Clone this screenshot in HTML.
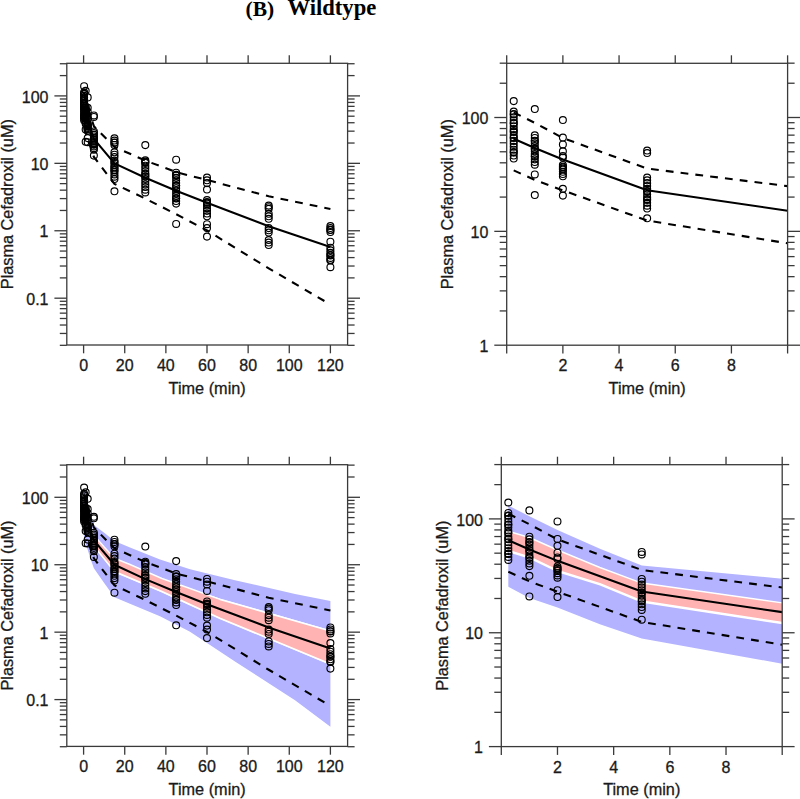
<!DOCTYPE html>
<html><head><meta charset="utf-8"><style>
html,body{margin:0;padding:0;background:#fff;width:800px;height:799px;overflow:hidden}
svg{display:block}
.tk{font-family:"Liberation Sans",sans-serif;font-size:16px;fill:#1a1a1a;stroke:#1a1a1a;stroke-width:0.3px}
.lb{font-family:"Liberation Sans",sans-serif;font-size:16.3px;fill:#1a1a1a;stroke:#1a1a1a;stroke-width:0.3px}
.title{font-family:"Liberation Serif",serif;font-size:21.5px;font-weight:bold;fill:#000;white-space:pre}
</style></head><body>
<svg width="800" height="799" viewBox="0 0 800 799">
<defs><clipPath id="cp1"><rect x="66.8" y="63.3" width="280.8" height="281.7"/></clipPath><clipPath id="cp2"><rect x="506.7" y="63.3" width="280.90000000000003" height="281.9"/></clipPath><clipPath id="cp3"><rect x="66.8" y="464.7" width="280.8" height="281.7"/></clipPath><clipPath id="cp4"><rect x="501.3" y="464.7" width="280.90000000000003" height="281.8999999999999"/></clipPath></defs>
<rect width="800" height="799" fill="#fff"/>
<text x="245.5" y="15.5" class="title">(B)</text>
<text x="287.5" y="15.4" class="title" style="font-size:22.6px">Wildtype</text>
<g clip-path="url(#cp1)">
<path d="M84.11,108.52 L85.66,114.00 L87.71,120.75 L93.88,138.94 L114.45,163.33 L145.30,177.71 L176.15,190.68 L207.00,202.78 L268.70,226.16 L330.40,247.02" fill="none" stroke="#000" stroke-width="2.1" stroke-linejoin="round"/>
<path d="M84.11,92.84 L85.66,99.08 L87.71,108.07 L93.88,126.15 L114.45,146.94 L145.30,160.54 L176.15,172.15 L207.00,180.00 L268.70,196.33 L330.40,209.03" fill="none" stroke="#000" stroke-width="2.1" stroke-dasharray="7.8 7.1"/>
<path d="M84.11,127.24 L85.66,132.87 L87.71,139.07 L93.88,156.91 L114.45,183.92 L145.30,198.59 L176.15,214.21 L207.00,230.47 L268.70,268.35 L330.40,304.54" fill="none" stroke="#000" stroke-width="2.1" stroke-dasharray="7.8 7.1"/>
<g fill="none" stroke="#000" stroke-width="1.15"><circle cx="84.11" cy="86.19" r="3.45"/><circle cx="84.11" cy="92.35" r="3.45"/><circle cx="84.11" cy="94.09" r="3.45"/><circle cx="84.11" cy="95.83" r="3.45"/><circle cx="84.11" cy="97.57" r="3.45"/><circle cx="84.11" cy="99.31" r="3.45"/><circle cx="84.11" cy="101.05" r="3.45"/><circle cx="84.11" cy="102.79" r="3.45"/><circle cx="84.11" cy="104.52" r="3.45"/><circle cx="84.11" cy="106.26" r="3.45"/><circle cx="84.11" cy="108.00" r="3.45"/><circle cx="84.11" cy="109.74" r="3.45"/><circle cx="84.11" cy="111.48" r="3.45"/><circle cx="84.11" cy="113.22" r="3.45"/><circle cx="84.11" cy="114.96" r="3.45"/><circle cx="84.11" cy="116.70" r="3.45"/><circle cx="84.11" cy="118.44" r="3.45"/><circle cx="84.11" cy="120.18" r="3.45"/><circle cx="84.11" cy="93.83" r="3.45"/><circle cx="84.11" cy="99.16" r="3.45"/><circle cx="84.11" cy="103.90" r="3.45"/><circle cx="84.11" cy="107.75" r="3.45"/><circle cx="84.11" cy="116.33" r="3.45"/><circle cx="85.66" cy="90.87" r="3.45"/><circle cx="85.66" cy="106.44" r="3.45"/><circle cx="85.66" cy="108.03" r="3.45"/><circle cx="85.66" cy="109.61" r="3.45"/><circle cx="85.66" cy="111.19" r="3.45"/><circle cx="85.66" cy="112.77" r="3.45"/><circle cx="85.66" cy="114.36" r="3.45"/><circle cx="85.66" cy="115.94" r="3.45"/><circle cx="85.66" cy="117.52" r="3.45"/><circle cx="85.66" cy="119.11" r="3.45"/><circle cx="85.66" cy="120.69" r="3.45"/><circle cx="85.66" cy="122.27" r="3.45"/><circle cx="85.66" cy="123.86" r="3.45"/><circle cx="85.66" cy="109.82" r="3.45"/><circle cx="85.66" cy="114.56" r="3.45"/><circle cx="85.66" cy="118.70" r="3.45"/><circle cx="85.66" cy="129.60" r="3.45"/><circle cx="85.66" cy="141.80" r="3.45"/><circle cx="87.71" cy="97.38" r="3.45"/><circle cx="87.71" cy="107.75" r="3.45"/><circle cx="87.71" cy="111.83" r="3.45"/><circle cx="87.71" cy="115.89" r="3.45"/><circle cx="87.71" cy="118.70" r="3.45"/><circle cx="87.71" cy="119.59" r="3.45"/><circle cx="87.71" cy="124.03" r="3.45"/><circle cx="87.71" cy="125.37" r="3.45"/><circle cx="87.71" cy="126.70" r="3.45"/><circle cx="87.71" cy="128.03" r="3.45"/><circle cx="87.71" cy="129.36" r="3.45"/><circle cx="87.71" cy="130.70" r="3.45"/><circle cx="87.71" cy="126.19" r="3.45"/><circle cx="87.71" cy="125.04" r="3.45"/><circle cx="87.71" cy="138.10" r="3.45"/><circle cx="87.71" cy="142.16" r="3.45"/><circle cx="93.88" cy="115.44" r="3.45"/><circle cx="93.88" cy="116.93" r="3.45"/><circle cx="93.88" cy="131.44" r="3.45"/><circle cx="93.88" cy="133.11" r="3.45"/><circle cx="93.88" cy="134.77" r="3.45"/><circle cx="93.88" cy="136.44" r="3.45"/><circle cx="93.88" cy="138.11" r="3.45"/><circle cx="93.88" cy="139.78" r="3.45"/><circle cx="93.88" cy="141.45" r="3.45"/><circle cx="93.88" cy="143.12" r="3.45"/><circle cx="93.88" cy="144.79" r="3.45"/><circle cx="93.88" cy="146.46" r="3.45"/><circle cx="93.88" cy="148.13" r="3.45"/><circle cx="93.88" cy="149.80" r="3.45"/><circle cx="93.88" cy="139.43" r="3.45"/><circle cx="93.88" cy="144.17" r="3.45"/><circle cx="93.88" cy="155.60" r="3.45"/><circle cx="114.45" cy="138.30" r="3.45"/><circle cx="114.45" cy="140.50" r="3.45"/><circle cx="114.45" cy="142.70" r="3.45"/><circle cx="114.45" cy="144.90" r="3.45"/><circle cx="114.45" cy="142.60" r="3.45"/><circle cx="114.45" cy="152.30" r="3.45"/><circle cx="114.45" cy="154.70" r="3.45"/><circle cx="114.45" cy="157.10" r="3.45"/><circle cx="114.45" cy="160.60" r="3.45"/><circle cx="114.45" cy="162.90" r="3.45"/><circle cx="114.45" cy="165.20" r="3.45"/><circle cx="114.45" cy="167.50" r="3.45"/><circle cx="114.45" cy="169.80" r="3.45"/><circle cx="114.45" cy="172.10" r="3.45"/><circle cx="114.45" cy="174.40" r="3.45"/><circle cx="114.45" cy="176.70" r="3.45"/><circle cx="114.45" cy="179.00" r="3.45"/><circle cx="114.45" cy="161.93" r="3.45"/><circle cx="114.45" cy="170.46" r="3.45"/><circle cx="114.45" cy="167.33" r="3.45"/><circle cx="114.45" cy="191.30" r="3.45"/><circle cx="145.30" cy="145.10" r="3.45"/><circle cx="145.30" cy="160.30" r="3.45"/><circle cx="145.30" cy="162.98" r="3.45"/><circle cx="145.30" cy="165.65" r="3.45"/><circle cx="145.30" cy="168.33" r="3.45"/><circle cx="145.30" cy="171.00" r="3.45"/><circle cx="145.30" cy="173.68" r="3.45"/><circle cx="145.30" cy="176.35" r="3.45"/><circle cx="145.30" cy="179.03" r="3.45"/><circle cx="145.30" cy="181.70" r="3.45"/><circle cx="145.30" cy="184.38" r="3.45"/><circle cx="145.30" cy="187.05" r="3.45"/><circle cx="145.30" cy="189.72" r="3.45"/><circle cx="145.30" cy="192.40" r="3.45"/><circle cx="145.30" cy="162.16" r="3.45"/><circle cx="145.30" cy="176.59" r="3.45"/><circle cx="145.30" cy="161.50" r="3.45"/><circle cx="145.30" cy="174.22" r="3.45"/><circle cx="176.15" cy="159.70" r="3.45"/><circle cx="176.15" cy="172.70" r="3.45"/><circle cx="176.15" cy="175.27" r="3.45"/><circle cx="176.15" cy="177.85" r="3.45"/><circle cx="176.15" cy="180.42" r="3.45"/><circle cx="176.15" cy="183.00" r="3.45"/><circle cx="176.15" cy="185.57" r="3.45"/><circle cx="176.15" cy="188.15" r="3.45"/><circle cx="176.15" cy="190.72" r="3.45"/><circle cx="176.15" cy="193.30" r="3.45"/><circle cx="176.15" cy="195.88" r="3.45"/><circle cx="176.15" cy="198.45" r="3.45"/><circle cx="176.15" cy="201.03" r="3.45"/><circle cx="176.15" cy="203.60" r="3.45"/><circle cx="176.15" cy="174.86" r="3.45"/><circle cx="176.15" cy="175.50" r="3.45"/><circle cx="176.15" cy="185.82" r="3.45"/><circle cx="176.15" cy="198.25" r="3.45"/><circle cx="176.15" cy="223.90" r="3.45"/><circle cx="207.00" cy="177.50" r="3.45"/><circle cx="207.00" cy="180.30" r="3.45"/><circle cx="207.00" cy="183.10" r="3.45"/><circle cx="207.00" cy="189.50" r="3.45"/><circle cx="207.00" cy="200.00" r="3.45"/><circle cx="207.00" cy="202.72" r="3.45"/><circle cx="207.00" cy="205.43" r="3.45"/><circle cx="207.00" cy="208.15" r="3.45"/><circle cx="207.00" cy="210.87" r="3.45"/><circle cx="207.00" cy="213.58" r="3.45"/><circle cx="207.00" cy="216.30" r="3.45"/><circle cx="207.00" cy="202.02" r="3.45"/><circle cx="207.00" cy="203.64" r="3.45"/><circle cx="207.00" cy="224.20" r="3.45"/><circle cx="207.00" cy="228.10" r="3.45"/><circle cx="207.00" cy="236.60" r="3.45"/><circle cx="268.70" cy="205.60" r="3.45"/><circle cx="268.70" cy="207.18" r="3.45"/><circle cx="268.70" cy="208.75" r="3.45"/><circle cx="268.70" cy="213.75" r="3.45"/><circle cx="268.70" cy="216.25" r="3.45"/><circle cx="268.70" cy="218.75" r="3.45"/><circle cx="268.70" cy="228.10" r="3.45"/><circle cx="268.70" cy="230.30" r="3.45"/><circle cx="268.70" cy="232.50" r="3.45"/><circle cx="268.70" cy="240.00" r="3.45"/><circle cx="268.70" cy="242.50" r="3.45"/><circle cx="268.70" cy="245.00" r="3.45"/><circle cx="330.40" cy="226.00" r="3.45"/><circle cx="330.40" cy="228.00" r="3.45"/><circle cx="330.40" cy="230.00" r="3.45"/><circle cx="330.40" cy="232.00" r="3.45"/><circle cx="330.40" cy="229.76" r="3.45"/><circle cx="330.40" cy="241.70" r="3.45"/><circle cx="330.40" cy="247.70" r="3.45"/><circle cx="330.40" cy="250.26" r="3.45"/><circle cx="330.40" cy="252.82" r="3.45"/><circle cx="330.40" cy="255.38" r="3.45"/><circle cx="330.40" cy="257.94" r="3.45"/><circle cx="330.40" cy="260.50" r="3.45"/><circle cx="330.40" cy="259.83" r="3.45"/><circle cx="330.40" cy="255.09" r="3.45"/><circle cx="330.40" cy="267.20" r="3.45"/></g>
</g>
<rect x="66.80" y="63.30" width="280.80" height="281.70" fill="none" stroke="#3a3a3a" stroke-width="1.3"/>
<line x1="83.60" y1="345.00" x2="83.60" y2="353.30" stroke="#3a3a3a" stroke-width="1.3"/>
<line x1="83.60" y1="63.30" x2="83.60" y2="55.30" stroke="#3a3a3a" stroke-width="1.3"/>
<line x1="124.73" y1="345.00" x2="124.73" y2="353.30" stroke="#3a3a3a" stroke-width="1.3"/>
<line x1="124.73" y1="63.30" x2="124.73" y2="55.30" stroke="#3a3a3a" stroke-width="1.3"/>
<line x1="165.87" y1="345.00" x2="165.87" y2="353.30" stroke="#3a3a3a" stroke-width="1.3"/>
<line x1="165.87" y1="63.30" x2="165.87" y2="55.30" stroke="#3a3a3a" stroke-width="1.3"/>
<line x1="207.00" y1="345.00" x2="207.00" y2="353.30" stroke="#3a3a3a" stroke-width="1.3"/>
<line x1="207.00" y1="63.30" x2="207.00" y2="55.30" stroke="#3a3a3a" stroke-width="1.3"/>
<line x1="248.14" y1="345.00" x2="248.14" y2="353.30" stroke="#3a3a3a" stroke-width="1.3"/>
<line x1="248.14" y1="63.30" x2="248.14" y2="55.30" stroke="#3a3a3a" stroke-width="1.3"/>
<line x1="289.27" y1="345.00" x2="289.27" y2="353.30" stroke="#3a3a3a" stroke-width="1.3"/>
<line x1="289.27" y1="63.30" x2="289.27" y2="55.30" stroke="#3a3a3a" stroke-width="1.3"/>
<line x1="330.40" y1="345.00" x2="330.40" y2="353.30" stroke="#3a3a3a" stroke-width="1.3"/>
<line x1="330.40" y1="63.30" x2="330.40" y2="55.30" stroke="#3a3a3a" stroke-width="1.3"/>
<text x="83.60" y="371.00" text-anchor="middle" class="tk">0</text>
<text x="124.73" y="371.00" text-anchor="middle" class="tk">20</text>
<text x="165.87" y="371.00" text-anchor="middle" class="tk">40</text>
<text x="207.00" y="371.00" text-anchor="middle" class="tk">60</text>
<text x="248.14" y="371.00" text-anchor="middle" class="tk">80</text>
<text x="289.27" y="371.00" text-anchor="middle" class="tk">100</text>
<text x="330.40" y="371.00" text-anchor="middle" class="tk">120</text>
<line x1="59.80" y1="345.32" x2="66.80" y2="345.32" stroke="#3a3a3a" stroke-width="1.3"/>
<line x1="347.60" y1="345.32" x2="354.60" y2="345.32" stroke="#3a3a3a" stroke-width="1.3"/>
<line x1="59.80" y1="333.45" x2="66.80" y2="333.45" stroke="#3a3a3a" stroke-width="1.3"/>
<line x1="347.60" y1="333.45" x2="354.60" y2="333.45" stroke="#3a3a3a" stroke-width="1.3"/>
<line x1="59.80" y1="325.02" x2="66.80" y2="325.02" stroke="#3a3a3a" stroke-width="1.3"/>
<line x1="347.60" y1="325.02" x2="354.60" y2="325.02" stroke="#3a3a3a" stroke-width="1.3"/>
<line x1="59.80" y1="318.49" x2="66.80" y2="318.49" stroke="#3a3a3a" stroke-width="1.3"/>
<line x1="347.60" y1="318.49" x2="354.60" y2="318.49" stroke="#3a3a3a" stroke-width="1.3"/>
<line x1="59.80" y1="313.15" x2="66.80" y2="313.15" stroke="#3a3a3a" stroke-width="1.3"/>
<line x1="347.60" y1="313.15" x2="354.60" y2="313.15" stroke="#3a3a3a" stroke-width="1.3"/>
<line x1="59.80" y1="308.64" x2="66.80" y2="308.64" stroke="#3a3a3a" stroke-width="1.3"/>
<line x1="347.60" y1="308.64" x2="354.60" y2="308.64" stroke="#3a3a3a" stroke-width="1.3"/>
<line x1="59.80" y1="304.72" x2="66.80" y2="304.72" stroke="#3a3a3a" stroke-width="1.3"/>
<line x1="347.60" y1="304.72" x2="354.60" y2="304.72" stroke="#3a3a3a" stroke-width="1.3"/>
<line x1="59.80" y1="301.28" x2="66.80" y2="301.28" stroke="#3a3a3a" stroke-width="1.3"/>
<line x1="347.60" y1="301.28" x2="354.60" y2="301.28" stroke="#3a3a3a" stroke-width="1.3"/>
<line x1="54.40" y1="298.19" x2="66.80" y2="298.19" stroke="#3a3a3a" stroke-width="1.3"/>
<line x1="347.60" y1="298.19" x2="360.00" y2="298.19" stroke="#3a3a3a" stroke-width="1.3"/>
<line x1="59.80" y1="277.89" x2="66.80" y2="277.89" stroke="#3a3a3a" stroke-width="1.3"/>
<line x1="347.60" y1="277.89" x2="354.60" y2="277.89" stroke="#3a3a3a" stroke-width="1.3"/>
<line x1="59.80" y1="266.02" x2="66.80" y2="266.02" stroke="#3a3a3a" stroke-width="1.3"/>
<line x1="347.60" y1="266.02" x2="354.60" y2="266.02" stroke="#3a3a3a" stroke-width="1.3"/>
<line x1="59.80" y1="257.59" x2="66.80" y2="257.59" stroke="#3a3a3a" stroke-width="1.3"/>
<line x1="347.60" y1="257.59" x2="354.60" y2="257.59" stroke="#3a3a3a" stroke-width="1.3"/>
<line x1="59.80" y1="251.06" x2="66.80" y2="251.06" stroke="#3a3a3a" stroke-width="1.3"/>
<line x1="347.60" y1="251.06" x2="354.60" y2="251.06" stroke="#3a3a3a" stroke-width="1.3"/>
<line x1="59.80" y1="245.72" x2="66.80" y2="245.72" stroke="#3a3a3a" stroke-width="1.3"/>
<line x1="347.60" y1="245.72" x2="354.60" y2="245.72" stroke="#3a3a3a" stroke-width="1.3"/>
<line x1="59.80" y1="241.21" x2="66.80" y2="241.21" stroke="#3a3a3a" stroke-width="1.3"/>
<line x1="347.60" y1="241.21" x2="354.60" y2="241.21" stroke="#3a3a3a" stroke-width="1.3"/>
<line x1="59.80" y1="237.29" x2="66.80" y2="237.29" stroke="#3a3a3a" stroke-width="1.3"/>
<line x1="347.60" y1="237.29" x2="354.60" y2="237.29" stroke="#3a3a3a" stroke-width="1.3"/>
<line x1="59.80" y1="233.85" x2="66.80" y2="233.85" stroke="#3a3a3a" stroke-width="1.3"/>
<line x1="347.60" y1="233.85" x2="354.60" y2="233.85" stroke="#3a3a3a" stroke-width="1.3"/>
<line x1="54.40" y1="230.76" x2="66.80" y2="230.76" stroke="#3a3a3a" stroke-width="1.3"/>
<line x1="347.60" y1="230.76" x2="360.00" y2="230.76" stroke="#3a3a3a" stroke-width="1.3"/>
<line x1="59.80" y1="210.46" x2="66.80" y2="210.46" stroke="#3a3a3a" stroke-width="1.3"/>
<line x1="347.60" y1="210.46" x2="354.60" y2="210.46" stroke="#3a3a3a" stroke-width="1.3"/>
<line x1="59.80" y1="198.59" x2="66.80" y2="198.59" stroke="#3a3a3a" stroke-width="1.3"/>
<line x1="347.60" y1="198.59" x2="354.60" y2="198.59" stroke="#3a3a3a" stroke-width="1.3"/>
<line x1="59.80" y1="190.16" x2="66.80" y2="190.16" stroke="#3a3a3a" stroke-width="1.3"/>
<line x1="347.60" y1="190.16" x2="354.60" y2="190.16" stroke="#3a3a3a" stroke-width="1.3"/>
<line x1="59.80" y1="183.63" x2="66.80" y2="183.63" stroke="#3a3a3a" stroke-width="1.3"/>
<line x1="347.60" y1="183.63" x2="354.60" y2="183.63" stroke="#3a3a3a" stroke-width="1.3"/>
<line x1="59.80" y1="178.29" x2="66.80" y2="178.29" stroke="#3a3a3a" stroke-width="1.3"/>
<line x1="347.60" y1="178.29" x2="354.60" y2="178.29" stroke="#3a3a3a" stroke-width="1.3"/>
<line x1="59.80" y1="173.78" x2="66.80" y2="173.78" stroke="#3a3a3a" stroke-width="1.3"/>
<line x1="347.60" y1="173.78" x2="354.60" y2="173.78" stroke="#3a3a3a" stroke-width="1.3"/>
<line x1="59.80" y1="169.86" x2="66.80" y2="169.86" stroke="#3a3a3a" stroke-width="1.3"/>
<line x1="347.60" y1="169.86" x2="354.60" y2="169.86" stroke="#3a3a3a" stroke-width="1.3"/>
<line x1="59.80" y1="166.42" x2="66.80" y2="166.42" stroke="#3a3a3a" stroke-width="1.3"/>
<line x1="347.60" y1="166.42" x2="354.60" y2="166.42" stroke="#3a3a3a" stroke-width="1.3"/>
<line x1="54.40" y1="163.33" x2="66.80" y2="163.33" stroke="#3a3a3a" stroke-width="1.3"/>
<line x1="347.60" y1="163.33" x2="360.00" y2="163.33" stroke="#3a3a3a" stroke-width="1.3"/>
<line x1="59.80" y1="143.03" x2="66.80" y2="143.03" stroke="#3a3a3a" stroke-width="1.3"/>
<line x1="347.60" y1="143.03" x2="354.60" y2="143.03" stroke="#3a3a3a" stroke-width="1.3"/>
<line x1="59.80" y1="131.16" x2="66.80" y2="131.16" stroke="#3a3a3a" stroke-width="1.3"/>
<line x1="347.60" y1="131.16" x2="354.60" y2="131.16" stroke="#3a3a3a" stroke-width="1.3"/>
<line x1="59.80" y1="122.73" x2="66.80" y2="122.73" stroke="#3a3a3a" stroke-width="1.3"/>
<line x1="347.60" y1="122.73" x2="354.60" y2="122.73" stroke="#3a3a3a" stroke-width="1.3"/>
<line x1="59.80" y1="116.20" x2="66.80" y2="116.20" stroke="#3a3a3a" stroke-width="1.3"/>
<line x1="347.60" y1="116.20" x2="354.60" y2="116.20" stroke="#3a3a3a" stroke-width="1.3"/>
<line x1="59.80" y1="110.86" x2="66.80" y2="110.86" stroke="#3a3a3a" stroke-width="1.3"/>
<line x1="347.60" y1="110.86" x2="354.60" y2="110.86" stroke="#3a3a3a" stroke-width="1.3"/>
<line x1="59.80" y1="106.35" x2="66.80" y2="106.35" stroke="#3a3a3a" stroke-width="1.3"/>
<line x1="347.60" y1="106.35" x2="354.60" y2="106.35" stroke="#3a3a3a" stroke-width="1.3"/>
<line x1="59.80" y1="102.43" x2="66.80" y2="102.43" stroke="#3a3a3a" stroke-width="1.3"/>
<line x1="347.60" y1="102.43" x2="354.60" y2="102.43" stroke="#3a3a3a" stroke-width="1.3"/>
<line x1="59.80" y1="98.99" x2="66.80" y2="98.99" stroke="#3a3a3a" stroke-width="1.3"/>
<line x1="347.60" y1="98.99" x2="354.60" y2="98.99" stroke="#3a3a3a" stroke-width="1.3"/>
<line x1="54.40" y1="95.90" x2="66.80" y2="95.90" stroke="#3a3a3a" stroke-width="1.3"/>
<line x1="347.60" y1="95.90" x2="360.00" y2="95.90" stroke="#3a3a3a" stroke-width="1.3"/>
<line x1="59.80" y1="75.60" x2="66.80" y2="75.60" stroke="#3a3a3a" stroke-width="1.3"/>
<line x1="347.60" y1="75.60" x2="354.60" y2="75.60" stroke="#3a3a3a" stroke-width="1.3"/>
<line x1="59.80" y1="63.73" x2="66.80" y2="63.73" stroke="#3a3a3a" stroke-width="1.3"/>
<line x1="347.60" y1="63.73" x2="354.60" y2="63.73" stroke="#3a3a3a" stroke-width="1.3"/>
<text x="48.50" y="304.79" text-anchor="end" class="tk">0.1</text>
<text x="48.50" y="237.36" text-anchor="end" class="tk">1</text>
<text x="48.50" y="169.93" text-anchor="end" class="tk">10</text>
<text x="48.50" y="102.50" text-anchor="end" class="tk">100</text>
<text x="207.20" y="393.50" text-anchor="middle" class="lb">Time (min)</text>
<text transform="translate(13.10,204.15) rotate(-90)" x="0" y="0" text-anchor="middle" class="lb">Plasma Cefadroxil (uM)</text>
<g clip-path="url(#cp2)">
<path d="M513.72,138.80 L534.79,148.06 L562.88,159.46 L647.15,190.17 L787.60,210.76" fill="none" stroke="#000" stroke-width="2.1" stroke-linejoin="round"/>
<path d="M513.72,112.34 L534.79,122.87 L562.88,138.04 L647.15,168.57 L787.60,186.12" fill="none" stroke="#000" stroke-width="2.1" stroke-dasharray="7.8 7.1"/>
<path d="M513.72,170.41 L534.79,179.91 L562.88,190.38 L647.15,220.51 L787.60,243.32" fill="none" stroke="#000" stroke-width="2.1" stroke-dasharray="7.8 7.1"/>
<g fill="none" stroke="#000" stroke-width="1.15"><circle cx="513.72" cy="101.10" r="3.45"/><circle cx="513.72" cy="111.50" r="3.45"/><circle cx="513.72" cy="114.44" r="3.45"/><circle cx="513.72" cy="117.37" r="3.45"/><circle cx="513.72" cy="120.31" r="3.45"/><circle cx="513.72" cy="123.25" r="3.45"/><circle cx="513.72" cy="126.19" r="3.45"/><circle cx="513.72" cy="129.12" r="3.45"/><circle cx="513.72" cy="132.06" r="3.45"/><circle cx="513.72" cy="135.00" r="3.45"/><circle cx="513.72" cy="137.94" r="3.45"/><circle cx="513.72" cy="140.88" r="3.45"/><circle cx="513.72" cy="143.81" r="3.45"/><circle cx="513.72" cy="146.75" r="3.45"/><circle cx="513.72" cy="149.69" r="3.45"/><circle cx="513.72" cy="152.62" r="3.45"/><circle cx="513.72" cy="155.56" r="3.45"/><circle cx="513.72" cy="158.50" r="3.45"/><circle cx="513.72" cy="114.00" r="3.45"/><circle cx="513.72" cy="123.00" r="3.45"/><circle cx="513.72" cy="131.00" r="3.45"/><circle cx="513.72" cy="137.50" r="3.45"/><circle cx="513.72" cy="152.00" r="3.45"/><circle cx="534.79" cy="109.00" r="3.45"/><circle cx="534.79" cy="135.30" r="3.45"/><circle cx="534.79" cy="137.97" r="3.45"/><circle cx="534.79" cy="140.65" r="3.45"/><circle cx="534.79" cy="143.32" r="3.45"/><circle cx="534.79" cy="145.99" r="3.45"/><circle cx="534.79" cy="148.66" r="3.45"/><circle cx="534.79" cy="151.34" r="3.45"/><circle cx="534.79" cy="154.01" r="3.45"/><circle cx="534.79" cy="156.68" r="3.45"/><circle cx="534.79" cy="159.35" r="3.45"/><circle cx="534.79" cy="162.03" r="3.45"/><circle cx="534.79" cy="164.70" r="3.45"/><circle cx="534.79" cy="141.00" r="3.45"/><circle cx="534.79" cy="149.00" r="3.45"/><circle cx="534.79" cy="156.00" r="3.45"/><circle cx="534.79" cy="174.40" r="3.45"/><circle cx="534.79" cy="195.00" r="3.45"/><circle cx="562.88" cy="120.00" r="3.45"/><circle cx="562.88" cy="137.50" r="3.45"/><circle cx="562.88" cy="144.40" r="3.45"/><circle cx="562.88" cy="151.25" r="3.45"/><circle cx="562.88" cy="156.00" r="3.45"/><circle cx="562.88" cy="157.50" r="3.45"/><circle cx="562.88" cy="165.00" r="3.45"/><circle cx="562.88" cy="167.25" r="3.45"/><circle cx="562.88" cy="169.50" r="3.45"/><circle cx="562.88" cy="171.75" r="3.45"/><circle cx="562.88" cy="174.00" r="3.45"/><circle cx="562.88" cy="176.25" r="3.45"/><circle cx="562.88" cy="168.64" r="3.45"/><circle cx="562.88" cy="166.70" r="3.45"/><circle cx="562.88" cy="188.75" r="3.45"/><circle cx="562.88" cy="195.60" r="3.45"/><circle cx="647.15" cy="150.50" r="3.45"/><circle cx="647.15" cy="153.00" r="3.45"/><circle cx="647.15" cy="177.50" r="3.45"/><circle cx="647.15" cy="180.32" r="3.45"/><circle cx="647.15" cy="183.14" r="3.45"/><circle cx="647.15" cy="185.95" r="3.45"/><circle cx="647.15" cy="188.77" r="3.45"/><circle cx="647.15" cy="191.59" r="3.45"/><circle cx="647.15" cy="194.41" r="3.45"/><circle cx="647.15" cy="197.23" r="3.45"/><circle cx="647.15" cy="200.05" r="3.45"/><circle cx="647.15" cy="202.86" r="3.45"/><circle cx="647.15" cy="205.68" r="3.45"/><circle cx="647.15" cy="208.50" r="3.45"/><circle cx="647.15" cy="191.00" r="3.45"/><circle cx="647.15" cy="199.00" r="3.45"/><circle cx="647.15" cy="218.30" r="3.45"/></g>
</g>
<rect x="506.70" y="63.30" width="280.90" height="281.90" fill="none" stroke="#3a3a3a" stroke-width="1.3"/>
<line x1="506.70" y1="345.20" x2="506.70" y2="353.50" stroke="#3a3a3a" stroke-width="1.3"/>
<line x1="506.70" y1="63.30" x2="506.70" y2="55.30" stroke="#3a3a3a" stroke-width="1.3"/>
<line x1="562.88" y1="345.20" x2="562.88" y2="353.50" stroke="#3a3a3a" stroke-width="1.3"/>
<line x1="562.88" y1="63.30" x2="562.88" y2="55.30" stroke="#3a3a3a" stroke-width="1.3"/>
<line x1="619.06" y1="345.20" x2="619.06" y2="353.50" stroke="#3a3a3a" stroke-width="1.3"/>
<line x1="619.06" y1="63.30" x2="619.06" y2="55.30" stroke="#3a3a3a" stroke-width="1.3"/>
<line x1="675.24" y1="345.20" x2="675.24" y2="353.50" stroke="#3a3a3a" stroke-width="1.3"/>
<line x1="675.24" y1="63.30" x2="675.24" y2="55.30" stroke="#3a3a3a" stroke-width="1.3"/>
<line x1="731.42" y1="345.20" x2="731.42" y2="353.50" stroke="#3a3a3a" stroke-width="1.3"/>
<line x1="731.42" y1="63.30" x2="731.42" y2="55.30" stroke="#3a3a3a" stroke-width="1.3"/>
<line x1="787.60" y1="345.20" x2="787.60" y2="353.50" stroke="#3a3a3a" stroke-width="1.3"/>
<line x1="787.60" y1="63.30" x2="787.60" y2="55.30" stroke="#3a3a3a" stroke-width="1.3"/>
<text x="562.88" y="371.20" text-anchor="middle" class="tk">2</text>
<text x="619.06" y="371.20" text-anchor="middle" class="tk">4</text>
<text x="675.24" y="371.20" text-anchor="middle" class="tk">6</text>
<text x="731.42" y="371.20" text-anchor="middle" class="tk">8</text>
<line x1="494.30" y1="345.20" x2="506.70" y2="345.20" stroke="#3a3a3a" stroke-width="1.3"/>
<line x1="787.60" y1="345.20" x2="800.00" y2="345.20" stroke="#3a3a3a" stroke-width="1.3"/>
<line x1="499.70" y1="310.93" x2="506.70" y2="310.93" stroke="#3a3a3a" stroke-width="1.3"/>
<line x1="787.60" y1="310.93" x2="794.60" y2="310.93" stroke="#3a3a3a" stroke-width="1.3"/>
<line x1="499.70" y1="290.88" x2="506.70" y2="290.88" stroke="#3a3a3a" stroke-width="1.3"/>
<line x1="787.60" y1="290.88" x2="794.60" y2="290.88" stroke="#3a3a3a" stroke-width="1.3"/>
<line x1="499.70" y1="276.66" x2="506.70" y2="276.66" stroke="#3a3a3a" stroke-width="1.3"/>
<line x1="787.60" y1="276.66" x2="794.60" y2="276.66" stroke="#3a3a3a" stroke-width="1.3"/>
<line x1="499.70" y1="265.62" x2="506.70" y2="265.62" stroke="#3a3a3a" stroke-width="1.3"/>
<line x1="787.60" y1="265.62" x2="794.60" y2="265.62" stroke="#3a3a3a" stroke-width="1.3"/>
<line x1="499.70" y1="256.61" x2="506.70" y2="256.61" stroke="#3a3a3a" stroke-width="1.3"/>
<line x1="787.60" y1="256.61" x2="794.60" y2="256.61" stroke="#3a3a3a" stroke-width="1.3"/>
<line x1="499.70" y1="248.99" x2="506.70" y2="248.99" stroke="#3a3a3a" stroke-width="1.3"/>
<line x1="787.60" y1="248.99" x2="794.60" y2="248.99" stroke="#3a3a3a" stroke-width="1.3"/>
<line x1="499.70" y1="242.38" x2="506.70" y2="242.38" stroke="#3a3a3a" stroke-width="1.3"/>
<line x1="787.60" y1="242.38" x2="794.60" y2="242.38" stroke="#3a3a3a" stroke-width="1.3"/>
<line x1="499.70" y1="236.56" x2="506.70" y2="236.56" stroke="#3a3a3a" stroke-width="1.3"/>
<line x1="787.60" y1="236.56" x2="794.60" y2="236.56" stroke="#3a3a3a" stroke-width="1.3"/>
<line x1="494.30" y1="231.35" x2="506.70" y2="231.35" stroke="#3a3a3a" stroke-width="1.3"/>
<line x1="787.60" y1="231.35" x2="800.00" y2="231.35" stroke="#3a3a3a" stroke-width="1.3"/>
<line x1="499.70" y1="197.08" x2="506.70" y2="197.08" stroke="#3a3a3a" stroke-width="1.3"/>
<line x1="787.60" y1="197.08" x2="794.60" y2="197.08" stroke="#3a3a3a" stroke-width="1.3"/>
<line x1="499.70" y1="177.03" x2="506.70" y2="177.03" stroke="#3a3a3a" stroke-width="1.3"/>
<line x1="787.60" y1="177.03" x2="794.60" y2="177.03" stroke="#3a3a3a" stroke-width="1.3"/>
<line x1="499.70" y1="162.81" x2="506.70" y2="162.81" stroke="#3a3a3a" stroke-width="1.3"/>
<line x1="787.60" y1="162.81" x2="794.60" y2="162.81" stroke="#3a3a3a" stroke-width="1.3"/>
<line x1="499.70" y1="151.77" x2="506.70" y2="151.77" stroke="#3a3a3a" stroke-width="1.3"/>
<line x1="787.60" y1="151.77" x2="794.60" y2="151.77" stroke="#3a3a3a" stroke-width="1.3"/>
<line x1="499.70" y1="142.76" x2="506.70" y2="142.76" stroke="#3a3a3a" stroke-width="1.3"/>
<line x1="787.60" y1="142.76" x2="794.60" y2="142.76" stroke="#3a3a3a" stroke-width="1.3"/>
<line x1="499.70" y1="135.14" x2="506.70" y2="135.14" stroke="#3a3a3a" stroke-width="1.3"/>
<line x1="787.60" y1="135.14" x2="794.60" y2="135.14" stroke="#3a3a3a" stroke-width="1.3"/>
<line x1="499.70" y1="128.53" x2="506.70" y2="128.53" stroke="#3a3a3a" stroke-width="1.3"/>
<line x1="787.60" y1="128.53" x2="794.60" y2="128.53" stroke="#3a3a3a" stroke-width="1.3"/>
<line x1="499.70" y1="122.71" x2="506.70" y2="122.71" stroke="#3a3a3a" stroke-width="1.3"/>
<line x1="787.60" y1="122.71" x2="794.60" y2="122.71" stroke="#3a3a3a" stroke-width="1.3"/>
<line x1="494.30" y1="117.50" x2="506.70" y2="117.50" stroke="#3a3a3a" stroke-width="1.3"/>
<line x1="787.60" y1="117.50" x2="800.00" y2="117.50" stroke="#3a3a3a" stroke-width="1.3"/>
<line x1="499.70" y1="83.23" x2="506.70" y2="83.23" stroke="#3a3a3a" stroke-width="1.3"/>
<line x1="787.60" y1="83.23" x2="794.60" y2="83.23" stroke="#3a3a3a" stroke-width="1.3"/>
<line x1="499.70" y1="63.18" x2="506.70" y2="63.18" stroke="#3a3a3a" stroke-width="1.3"/>
<line x1="787.60" y1="63.18" x2="794.60" y2="63.18" stroke="#3a3a3a" stroke-width="1.3"/>
<text x="488.40" y="351.80" text-anchor="end" class="tk">1</text>
<text x="488.40" y="237.95" text-anchor="end" class="tk">10</text>
<text x="488.40" y="124.10" text-anchor="end" class="tk">100</text>
<text x="647.15" y="393.70" text-anchor="middle" class="lb">Time (min)</text>
<text transform="translate(453.00,204.25) rotate(-90)" x="0" y="0" text-anchor="middle" class="lb">Plasma Cefadroxil (uM)</text>
<g clip-path="url(#cp3)">
<path d="M84.11,489.39 L85.66,495.73 L87.71,503.83 L90.82,514.97 L93.88,524.95 L104.17,532.75 L114.45,541.11 L130.00,547.52 L160.01,559.51 L190.03,569.15 L234.97,580.18 L295.03,594.00 L330.40,600.88 L330.40,630.15 L219.96,598.54 L190.03,588.51 L161.96,578.49 L130.00,564.50 L114.45,558.20 L104.17,547.03 L93.88,535.32 L90.82,526.10 L87.71,515.73 L85.66,508.29 L84.11,504.58 Z" fill="#b3b3ff" stroke="none"/>
<path d="M84.11,517.10 L85.66,520.83 L87.71,528.92 L90.82,536.69 L93.88,546.98 L104.17,559.71 L114.45,572.49 L130.00,579.03 L161.96,592.53 L190.03,605.56 L219.96,619.15 L330.40,665.06 L330.40,726.87 L295.03,700.18 L234.97,661.51 L190.03,631.87 L160.01,616.28 L130.00,603.73 L114.45,597.20 L104.17,583.05 L93.88,568.14 L90.82,559.64 L87.71,549.71 L85.66,544.14 L84.11,537.43 Z" fill="#b3b3ff" stroke="none"/>
<path d="M84.11,504.58 L85.66,508.29 L87.71,515.73 L90.82,526.10 L93.88,535.32 L104.17,547.03 L114.45,558.20 L130.00,564.50 L161.96,578.49 L190.03,588.51 L219.96,599.41 L330.40,631.01 L330.40,664.01 L219.96,618.10 L190.03,604.52 L161.96,591.49 L130.00,577.98 L114.45,571.45 L104.17,558.67 L93.88,545.93 L90.82,535.64 L87.71,527.88 L85.66,519.79 L84.11,516.06 Z" fill="#ffb3b3" stroke="#fff" stroke-width="1.5" stroke-linejoin="round"/>
<path d="M84.11,509.92 L85.66,515.40 L87.71,522.15 L93.88,540.34 L114.45,564.73 L145.30,579.11 L176.15,592.08 L207.00,604.18 L268.70,627.56 L330.40,648.42" fill="none" stroke="#000" stroke-width="2.1" stroke-linejoin="round"/>
<path d="M84.11,494.24 L85.66,500.48 L87.71,509.47 L93.88,527.55 L114.45,548.34 L145.30,561.94 L176.15,573.55 L207.00,581.40 L268.70,597.73 L330.40,610.43" fill="none" stroke="#000" stroke-width="2.1" stroke-dasharray="7.8 7.1"/>
<path d="M84.11,528.64 L85.66,534.27 L87.71,540.47 L93.88,558.31 L114.45,585.32 L145.30,599.99 L176.15,615.61 L207.00,631.87 L268.70,669.75 L330.40,705.94" fill="none" stroke="#000" stroke-width="2.1" stroke-dasharray="7.8 7.1"/>
<g fill="none" stroke="#000" stroke-width="1.15"><circle cx="84.11" cy="487.59" r="3.45"/><circle cx="84.11" cy="493.75" r="3.45"/><circle cx="84.11" cy="495.49" r="3.45"/><circle cx="84.11" cy="497.23" r="3.45"/><circle cx="84.11" cy="498.97" r="3.45"/><circle cx="84.11" cy="500.71" r="3.45"/><circle cx="84.11" cy="502.45" r="3.45"/><circle cx="84.11" cy="504.19" r="3.45"/><circle cx="84.11" cy="505.92" r="3.45"/><circle cx="84.11" cy="507.66" r="3.45"/><circle cx="84.11" cy="509.40" r="3.45"/><circle cx="84.11" cy="511.14" r="3.45"/><circle cx="84.11" cy="512.88" r="3.45"/><circle cx="84.11" cy="514.62" r="3.45"/><circle cx="84.11" cy="516.36" r="3.45"/><circle cx="84.11" cy="518.10" r="3.45"/><circle cx="84.11" cy="519.84" r="3.45"/><circle cx="84.11" cy="521.58" r="3.45"/><circle cx="84.11" cy="495.23" r="3.45"/><circle cx="84.11" cy="500.56" r="3.45"/><circle cx="84.11" cy="505.30" r="3.45"/><circle cx="84.11" cy="509.15" r="3.45"/><circle cx="84.11" cy="517.73" r="3.45"/><circle cx="85.66" cy="492.27" r="3.45"/><circle cx="85.66" cy="507.84" r="3.45"/><circle cx="85.66" cy="509.43" r="3.45"/><circle cx="85.66" cy="511.01" r="3.45"/><circle cx="85.66" cy="512.59" r="3.45"/><circle cx="85.66" cy="514.17" r="3.45"/><circle cx="85.66" cy="515.76" r="3.45"/><circle cx="85.66" cy="517.34" r="3.45"/><circle cx="85.66" cy="518.92" r="3.45"/><circle cx="85.66" cy="520.51" r="3.45"/><circle cx="85.66" cy="522.09" r="3.45"/><circle cx="85.66" cy="523.67" r="3.45"/><circle cx="85.66" cy="525.26" r="3.45"/><circle cx="85.66" cy="511.22" r="3.45"/><circle cx="85.66" cy="515.96" r="3.45"/><circle cx="85.66" cy="520.10" r="3.45"/><circle cx="85.66" cy="531.00" r="3.45"/><circle cx="85.66" cy="543.20" r="3.45"/><circle cx="87.71" cy="498.78" r="3.45"/><circle cx="87.71" cy="509.15" r="3.45"/><circle cx="87.71" cy="513.23" r="3.45"/><circle cx="87.71" cy="517.29" r="3.45"/><circle cx="87.71" cy="520.10" r="3.45"/><circle cx="87.71" cy="520.99" r="3.45"/><circle cx="87.71" cy="525.43" r="3.45"/><circle cx="87.71" cy="526.77" r="3.45"/><circle cx="87.71" cy="528.10" r="3.45"/><circle cx="87.71" cy="529.43" r="3.45"/><circle cx="87.71" cy="530.76" r="3.45"/><circle cx="87.71" cy="532.10" r="3.45"/><circle cx="87.71" cy="527.59" r="3.45"/><circle cx="87.71" cy="526.44" r="3.45"/><circle cx="87.71" cy="539.50" r="3.45"/><circle cx="87.71" cy="543.56" r="3.45"/><circle cx="93.88" cy="516.84" r="3.45"/><circle cx="93.88" cy="518.33" r="3.45"/><circle cx="93.88" cy="532.84" r="3.45"/><circle cx="93.88" cy="534.51" r="3.45"/><circle cx="93.88" cy="536.17" r="3.45"/><circle cx="93.88" cy="537.84" r="3.45"/><circle cx="93.88" cy="539.51" r="3.45"/><circle cx="93.88" cy="541.18" r="3.45"/><circle cx="93.88" cy="542.85" r="3.45"/><circle cx="93.88" cy="544.52" r="3.45"/><circle cx="93.88" cy="546.19" r="3.45"/><circle cx="93.88" cy="547.86" r="3.45"/><circle cx="93.88" cy="549.53" r="3.45"/><circle cx="93.88" cy="551.20" r="3.45"/><circle cx="93.88" cy="540.83" r="3.45"/><circle cx="93.88" cy="545.57" r="3.45"/><circle cx="93.88" cy="557.00" r="3.45"/><circle cx="114.45" cy="539.70" r="3.45"/><circle cx="114.45" cy="541.90" r="3.45"/><circle cx="114.45" cy="544.10" r="3.45"/><circle cx="114.45" cy="546.30" r="3.45"/><circle cx="114.45" cy="544.00" r="3.45"/><circle cx="114.45" cy="553.70" r="3.45"/><circle cx="114.45" cy="556.10" r="3.45"/><circle cx="114.45" cy="558.50" r="3.45"/><circle cx="114.45" cy="562.00" r="3.45"/><circle cx="114.45" cy="564.30" r="3.45"/><circle cx="114.45" cy="566.60" r="3.45"/><circle cx="114.45" cy="568.90" r="3.45"/><circle cx="114.45" cy="571.20" r="3.45"/><circle cx="114.45" cy="573.50" r="3.45"/><circle cx="114.45" cy="575.80" r="3.45"/><circle cx="114.45" cy="578.10" r="3.45"/><circle cx="114.45" cy="580.40" r="3.45"/><circle cx="114.45" cy="563.33" r="3.45"/><circle cx="114.45" cy="571.86" r="3.45"/><circle cx="114.45" cy="568.73" r="3.45"/><circle cx="114.45" cy="592.70" r="3.45"/><circle cx="145.30" cy="546.50" r="3.45"/><circle cx="145.30" cy="561.70" r="3.45"/><circle cx="145.30" cy="564.38" r="3.45"/><circle cx="145.30" cy="567.05" r="3.45"/><circle cx="145.30" cy="569.72" r="3.45"/><circle cx="145.30" cy="572.40" r="3.45"/><circle cx="145.30" cy="575.07" r="3.45"/><circle cx="145.30" cy="577.75" r="3.45"/><circle cx="145.30" cy="580.42" r="3.45"/><circle cx="145.30" cy="583.10" r="3.45"/><circle cx="145.30" cy="585.77" r="3.45"/><circle cx="145.30" cy="588.45" r="3.45"/><circle cx="145.30" cy="591.12" r="3.45"/><circle cx="145.30" cy="593.80" r="3.45"/><circle cx="145.30" cy="563.56" r="3.45"/><circle cx="145.30" cy="577.99" r="3.45"/><circle cx="145.30" cy="562.90" r="3.45"/><circle cx="145.30" cy="575.62" r="3.45"/><circle cx="176.15" cy="561.10" r="3.45"/><circle cx="176.15" cy="574.10" r="3.45"/><circle cx="176.15" cy="576.67" r="3.45"/><circle cx="176.15" cy="579.25" r="3.45"/><circle cx="176.15" cy="581.82" r="3.45"/><circle cx="176.15" cy="584.40" r="3.45"/><circle cx="176.15" cy="586.97" r="3.45"/><circle cx="176.15" cy="589.55" r="3.45"/><circle cx="176.15" cy="592.12" r="3.45"/><circle cx="176.15" cy="594.70" r="3.45"/><circle cx="176.15" cy="597.27" r="3.45"/><circle cx="176.15" cy="599.85" r="3.45"/><circle cx="176.15" cy="602.42" r="3.45"/><circle cx="176.15" cy="605.00" r="3.45"/><circle cx="176.15" cy="576.26" r="3.45"/><circle cx="176.15" cy="576.90" r="3.45"/><circle cx="176.15" cy="587.22" r="3.45"/><circle cx="176.15" cy="599.65" r="3.45"/><circle cx="176.15" cy="625.30" r="3.45"/><circle cx="207.00" cy="578.90" r="3.45"/><circle cx="207.00" cy="581.70" r="3.45"/><circle cx="207.00" cy="584.50" r="3.45"/><circle cx="207.00" cy="590.90" r="3.45"/><circle cx="207.00" cy="601.40" r="3.45"/><circle cx="207.00" cy="604.12" r="3.45"/><circle cx="207.00" cy="606.83" r="3.45"/><circle cx="207.00" cy="609.55" r="3.45"/><circle cx="207.00" cy="612.27" r="3.45"/><circle cx="207.00" cy="614.98" r="3.45"/><circle cx="207.00" cy="617.70" r="3.45"/><circle cx="207.00" cy="603.42" r="3.45"/><circle cx="207.00" cy="605.04" r="3.45"/><circle cx="207.00" cy="625.60" r="3.45"/><circle cx="207.00" cy="629.50" r="3.45"/><circle cx="207.00" cy="638.00" r="3.45"/><circle cx="268.70" cy="607.00" r="3.45"/><circle cx="268.70" cy="608.57" r="3.45"/><circle cx="268.70" cy="610.15" r="3.45"/><circle cx="268.70" cy="615.15" r="3.45"/><circle cx="268.70" cy="617.65" r="3.45"/><circle cx="268.70" cy="620.15" r="3.45"/><circle cx="268.70" cy="629.50" r="3.45"/><circle cx="268.70" cy="631.70" r="3.45"/><circle cx="268.70" cy="633.90" r="3.45"/><circle cx="268.70" cy="641.40" r="3.45"/><circle cx="268.70" cy="643.90" r="3.45"/><circle cx="268.70" cy="646.40" r="3.45"/><circle cx="330.40" cy="627.40" r="3.45"/><circle cx="330.40" cy="629.40" r="3.45"/><circle cx="330.40" cy="631.40" r="3.45"/><circle cx="330.40" cy="633.40" r="3.45"/><circle cx="330.40" cy="631.16" r="3.45"/><circle cx="330.40" cy="643.10" r="3.45"/><circle cx="330.40" cy="649.10" r="3.45"/><circle cx="330.40" cy="651.66" r="3.45"/><circle cx="330.40" cy="654.22" r="3.45"/><circle cx="330.40" cy="656.78" r="3.45"/><circle cx="330.40" cy="659.34" r="3.45"/><circle cx="330.40" cy="661.90" r="3.45"/><circle cx="330.40" cy="661.23" r="3.45"/><circle cx="330.40" cy="656.49" r="3.45"/><circle cx="330.40" cy="668.60" r="3.45"/></g>
</g>
<rect x="66.80" y="464.70" width="280.80" height="281.70" fill="none" stroke="#3a3a3a" stroke-width="1.3"/>
<line x1="83.60" y1="746.40" x2="83.60" y2="754.70" stroke="#3a3a3a" stroke-width="1.3"/>
<line x1="83.60" y1="464.70" x2="83.60" y2="456.70" stroke="#3a3a3a" stroke-width="1.3"/>
<line x1="124.73" y1="746.40" x2="124.73" y2="754.70" stroke="#3a3a3a" stroke-width="1.3"/>
<line x1="124.73" y1="464.70" x2="124.73" y2="456.70" stroke="#3a3a3a" stroke-width="1.3"/>
<line x1="165.87" y1="746.40" x2="165.87" y2="754.70" stroke="#3a3a3a" stroke-width="1.3"/>
<line x1="165.87" y1="464.70" x2="165.87" y2="456.70" stroke="#3a3a3a" stroke-width="1.3"/>
<line x1="207.00" y1="746.40" x2="207.00" y2="754.70" stroke="#3a3a3a" stroke-width="1.3"/>
<line x1="207.00" y1="464.70" x2="207.00" y2="456.70" stroke="#3a3a3a" stroke-width="1.3"/>
<line x1="248.14" y1="746.40" x2="248.14" y2="754.70" stroke="#3a3a3a" stroke-width="1.3"/>
<line x1="248.14" y1="464.70" x2="248.14" y2="456.70" stroke="#3a3a3a" stroke-width="1.3"/>
<line x1="289.27" y1="746.40" x2="289.27" y2="754.70" stroke="#3a3a3a" stroke-width="1.3"/>
<line x1="289.27" y1="464.70" x2="289.27" y2="456.70" stroke="#3a3a3a" stroke-width="1.3"/>
<line x1="330.40" y1="746.40" x2="330.40" y2="754.70" stroke="#3a3a3a" stroke-width="1.3"/>
<line x1="330.40" y1="464.70" x2="330.40" y2="456.70" stroke="#3a3a3a" stroke-width="1.3"/>
<text x="83.60" y="772.40" text-anchor="middle" class="tk">0</text>
<text x="124.73" y="772.40" text-anchor="middle" class="tk">20</text>
<text x="165.87" y="772.40" text-anchor="middle" class="tk">40</text>
<text x="207.00" y="772.40" text-anchor="middle" class="tk">60</text>
<text x="248.14" y="772.40" text-anchor="middle" class="tk">80</text>
<text x="289.27" y="772.40" text-anchor="middle" class="tk">100</text>
<text x="330.40" y="772.40" text-anchor="middle" class="tk">120</text>
<line x1="59.80" y1="746.72" x2="66.80" y2="746.72" stroke="#3a3a3a" stroke-width="1.3"/>
<line x1="347.60" y1="746.72" x2="354.60" y2="746.72" stroke="#3a3a3a" stroke-width="1.3"/>
<line x1="59.80" y1="734.85" x2="66.80" y2="734.85" stroke="#3a3a3a" stroke-width="1.3"/>
<line x1="347.60" y1="734.85" x2="354.60" y2="734.85" stroke="#3a3a3a" stroke-width="1.3"/>
<line x1="59.80" y1="726.42" x2="66.80" y2="726.42" stroke="#3a3a3a" stroke-width="1.3"/>
<line x1="347.60" y1="726.42" x2="354.60" y2="726.42" stroke="#3a3a3a" stroke-width="1.3"/>
<line x1="59.80" y1="719.89" x2="66.80" y2="719.89" stroke="#3a3a3a" stroke-width="1.3"/>
<line x1="347.60" y1="719.89" x2="354.60" y2="719.89" stroke="#3a3a3a" stroke-width="1.3"/>
<line x1="59.80" y1="714.55" x2="66.80" y2="714.55" stroke="#3a3a3a" stroke-width="1.3"/>
<line x1="347.60" y1="714.55" x2="354.60" y2="714.55" stroke="#3a3a3a" stroke-width="1.3"/>
<line x1="59.80" y1="710.04" x2="66.80" y2="710.04" stroke="#3a3a3a" stroke-width="1.3"/>
<line x1="347.60" y1="710.04" x2="354.60" y2="710.04" stroke="#3a3a3a" stroke-width="1.3"/>
<line x1="59.80" y1="706.12" x2="66.80" y2="706.12" stroke="#3a3a3a" stroke-width="1.3"/>
<line x1="347.60" y1="706.12" x2="354.60" y2="706.12" stroke="#3a3a3a" stroke-width="1.3"/>
<line x1="59.80" y1="702.68" x2="66.80" y2="702.68" stroke="#3a3a3a" stroke-width="1.3"/>
<line x1="347.60" y1="702.68" x2="354.60" y2="702.68" stroke="#3a3a3a" stroke-width="1.3"/>
<line x1="54.40" y1="699.59" x2="66.80" y2="699.59" stroke="#3a3a3a" stroke-width="1.3"/>
<line x1="347.60" y1="699.59" x2="360.00" y2="699.59" stroke="#3a3a3a" stroke-width="1.3"/>
<line x1="59.80" y1="679.29" x2="66.80" y2="679.29" stroke="#3a3a3a" stroke-width="1.3"/>
<line x1="347.60" y1="679.29" x2="354.60" y2="679.29" stroke="#3a3a3a" stroke-width="1.3"/>
<line x1="59.80" y1="667.42" x2="66.80" y2="667.42" stroke="#3a3a3a" stroke-width="1.3"/>
<line x1="347.60" y1="667.42" x2="354.60" y2="667.42" stroke="#3a3a3a" stroke-width="1.3"/>
<line x1="59.80" y1="658.99" x2="66.80" y2="658.99" stroke="#3a3a3a" stroke-width="1.3"/>
<line x1="347.60" y1="658.99" x2="354.60" y2="658.99" stroke="#3a3a3a" stroke-width="1.3"/>
<line x1="59.80" y1="652.46" x2="66.80" y2="652.46" stroke="#3a3a3a" stroke-width="1.3"/>
<line x1="347.60" y1="652.46" x2="354.60" y2="652.46" stroke="#3a3a3a" stroke-width="1.3"/>
<line x1="59.80" y1="647.12" x2="66.80" y2="647.12" stroke="#3a3a3a" stroke-width="1.3"/>
<line x1="347.60" y1="647.12" x2="354.60" y2="647.12" stroke="#3a3a3a" stroke-width="1.3"/>
<line x1="59.80" y1="642.61" x2="66.80" y2="642.61" stroke="#3a3a3a" stroke-width="1.3"/>
<line x1="347.60" y1="642.61" x2="354.60" y2="642.61" stroke="#3a3a3a" stroke-width="1.3"/>
<line x1="59.80" y1="638.69" x2="66.80" y2="638.69" stroke="#3a3a3a" stroke-width="1.3"/>
<line x1="347.60" y1="638.69" x2="354.60" y2="638.69" stroke="#3a3a3a" stroke-width="1.3"/>
<line x1="59.80" y1="635.25" x2="66.80" y2="635.25" stroke="#3a3a3a" stroke-width="1.3"/>
<line x1="347.60" y1="635.25" x2="354.60" y2="635.25" stroke="#3a3a3a" stroke-width="1.3"/>
<line x1="54.40" y1="632.16" x2="66.80" y2="632.16" stroke="#3a3a3a" stroke-width="1.3"/>
<line x1="347.60" y1="632.16" x2="360.00" y2="632.16" stroke="#3a3a3a" stroke-width="1.3"/>
<line x1="59.80" y1="611.86" x2="66.80" y2="611.86" stroke="#3a3a3a" stroke-width="1.3"/>
<line x1="347.60" y1="611.86" x2="354.60" y2="611.86" stroke="#3a3a3a" stroke-width="1.3"/>
<line x1="59.80" y1="599.99" x2="66.80" y2="599.99" stroke="#3a3a3a" stroke-width="1.3"/>
<line x1="347.60" y1="599.99" x2="354.60" y2="599.99" stroke="#3a3a3a" stroke-width="1.3"/>
<line x1="59.80" y1="591.56" x2="66.80" y2="591.56" stroke="#3a3a3a" stroke-width="1.3"/>
<line x1="347.60" y1="591.56" x2="354.60" y2="591.56" stroke="#3a3a3a" stroke-width="1.3"/>
<line x1="59.80" y1="585.03" x2="66.80" y2="585.03" stroke="#3a3a3a" stroke-width="1.3"/>
<line x1="347.60" y1="585.03" x2="354.60" y2="585.03" stroke="#3a3a3a" stroke-width="1.3"/>
<line x1="59.80" y1="579.69" x2="66.80" y2="579.69" stroke="#3a3a3a" stroke-width="1.3"/>
<line x1="347.60" y1="579.69" x2="354.60" y2="579.69" stroke="#3a3a3a" stroke-width="1.3"/>
<line x1="59.80" y1="575.18" x2="66.80" y2="575.18" stroke="#3a3a3a" stroke-width="1.3"/>
<line x1="347.60" y1="575.18" x2="354.60" y2="575.18" stroke="#3a3a3a" stroke-width="1.3"/>
<line x1="59.80" y1="571.26" x2="66.80" y2="571.26" stroke="#3a3a3a" stroke-width="1.3"/>
<line x1="347.60" y1="571.26" x2="354.60" y2="571.26" stroke="#3a3a3a" stroke-width="1.3"/>
<line x1="59.80" y1="567.82" x2="66.80" y2="567.82" stroke="#3a3a3a" stroke-width="1.3"/>
<line x1="347.60" y1="567.82" x2="354.60" y2="567.82" stroke="#3a3a3a" stroke-width="1.3"/>
<line x1="54.40" y1="564.73" x2="66.80" y2="564.73" stroke="#3a3a3a" stroke-width="1.3"/>
<line x1="347.60" y1="564.73" x2="360.00" y2="564.73" stroke="#3a3a3a" stroke-width="1.3"/>
<line x1="59.80" y1="544.43" x2="66.80" y2="544.43" stroke="#3a3a3a" stroke-width="1.3"/>
<line x1="347.60" y1="544.43" x2="354.60" y2="544.43" stroke="#3a3a3a" stroke-width="1.3"/>
<line x1="59.80" y1="532.56" x2="66.80" y2="532.56" stroke="#3a3a3a" stroke-width="1.3"/>
<line x1="347.60" y1="532.56" x2="354.60" y2="532.56" stroke="#3a3a3a" stroke-width="1.3"/>
<line x1="59.80" y1="524.13" x2="66.80" y2="524.13" stroke="#3a3a3a" stroke-width="1.3"/>
<line x1="347.60" y1="524.13" x2="354.60" y2="524.13" stroke="#3a3a3a" stroke-width="1.3"/>
<line x1="59.80" y1="517.60" x2="66.80" y2="517.60" stroke="#3a3a3a" stroke-width="1.3"/>
<line x1="347.60" y1="517.60" x2="354.60" y2="517.60" stroke="#3a3a3a" stroke-width="1.3"/>
<line x1="59.80" y1="512.26" x2="66.80" y2="512.26" stroke="#3a3a3a" stroke-width="1.3"/>
<line x1="347.60" y1="512.26" x2="354.60" y2="512.26" stroke="#3a3a3a" stroke-width="1.3"/>
<line x1="59.80" y1="507.75" x2="66.80" y2="507.75" stroke="#3a3a3a" stroke-width="1.3"/>
<line x1="347.60" y1="507.75" x2="354.60" y2="507.75" stroke="#3a3a3a" stroke-width="1.3"/>
<line x1="59.80" y1="503.83" x2="66.80" y2="503.83" stroke="#3a3a3a" stroke-width="1.3"/>
<line x1="347.60" y1="503.83" x2="354.60" y2="503.83" stroke="#3a3a3a" stroke-width="1.3"/>
<line x1="59.80" y1="500.39" x2="66.80" y2="500.39" stroke="#3a3a3a" stroke-width="1.3"/>
<line x1="347.60" y1="500.39" x2="354.60" y2="500.39" stroke="#3a3a3a" stroke-width="1.3"/>
<line x1="54.40" y1="497.30" x2="66.80" y2="497.30" stroke="#3a3a3a" stroke-width="1.3"/>
<line x1="347.60" y1="497.30" x2="360.00" y2="497.30" stroke="#3a3a3a" stroke-width="1.3"/>
<line x1="59.80" y1="477.00" x2="66.80" y2="477.00" stroke="#3a3a3a" stroke-width="1.3"/>
<line x1="347.60" y1="477.00" x2="354.60" y2="477.00" stroke="#3a3a3a" stroke-width="1.3"/>
<line x1="59.80" y1="465.13" x2="66.80" y2="465.13" stroke="#3a3a3a" stroke-width="1.3"/>
<line x1="347.60" y1="465.13" x2="354.60" y2="465.13" stroke="#3a3a3a" stroke-width="1.3"/>
<text x="48.50" y="706.19" text-anchor="end" class="tk">0.1</text>
<text x="48.50" y="638.76" text-anchor="end" class="tk">1</text>
<text x="48.50" y="571.33" text-anchor="end" class="tk">10</text>
<text x="48.50" y="503.90" text-anchor="end" class="tk">100</text>
<text x="207.20" y="794.90" text-anchor="middle" class="lb">Time (min)</text>
<text transform="translate(13.10,605.55) rotate(-90)" x="0" y="0" text-anchor="middle" class="lb">Plasma Cefadroxil (uM)</text>
<g clip-path="url(#cp4)">
<path d="M508.32,505.55 L529.39,516.25 L557.48,529.93 L599.90,548.73 L641.75,565.58 L782.20,578.76 L922.65,592.87 L1135.01,603.69 L1544.84,623.94 L1954.96,640.21 L2568.72,658.84 L3388.95,682.18 L3872.10,693.79 L3872.10,743.20 L2363.67,689.84 L1954.96,672.90 L1571.53,655.99 L1135.01,632.36 L922.65,621.72 L782.20,602.87 L641.75,583.09 L599.90,567.53 L557.48,550.01 L529.39,537.46 L508.32,531.19 Z" fill="#b3b3ff" stroke="none"/>
<path d="M508.32,552.33 L529.39,558.63 L557.48,572.29 L599.90,585.40 L641.75,602.78 L782.20,624.28 L922.65,645.85 L1135.01,656.89 L1571.53,679.69 L1954.96,701.69 L2363.67,724.63 L3872.10,802.14 L3872.10,906.50 L3388.95,861.45 L2568.72,796.16 L1954.96,746.11 L1544.84,719.79 L1135.01,698.60 L922.65,687.57 L782.20,663.68 L641.75,638.51 L599.90,624.15 L557.48,607.39 L529.39,597.99 L508.32,586.66 Z" fill="#b3b3ff" stroke="none"/>
<path d="M508.32,531.19 L529.39,537.46 L557.48,550.01 L599.90,567.53 L641.75,583.09 L782.20,602.87 L922.65,621.72 L1135.01,632.36 L1571.53,655.99 L1954.96,672.90 L2363.67,691.30 L3872.10,744.66 L3872.10,800.38 L2363.67,722.87 L1954.96,699.93 L1571.53,677.93 L1135.01,655.13 L922.65,644.09 L782.20,622.51 L641.75,601.01 L599.90,583.64 L557.48,570.53 L529.39,556.87 L508.32,550.57 Z" fill="#ffb3b3" stroke="#fff" stroke-width="1.5" stroke-linejoin="round"/>
<path d="M508.32,540.20 L529.39,549.46 L557.48,560.86 L641.75,591.57 L782.20,612.16" fill="none" stroke="#000" stroke-width="2.1" stroke-linejoin="round"/>
<path d="M508.32,513.74 L529.39,524.27 L557.48,539.44 L641.75,569.97 L782.20,587.52" fill="none" stroke="#000" stroke-width="2.1" stroke-dasharray="7.8 7.1"/>
<path d="M508.32,571.81 L529.39,581.31 L557.48,591.78 L641.75,621.91 L782.20,644.72" fill="none" stroke="#000" stroke-width="2.1" stroke-dasharray="7.8 7.1"/>
<g fill="none" stroke="#000" stroke-width="1.15"><circle cx="508.32" cy="502.50" r="3.45"/><circle cx="508.32" cy="512.90" r="3.45"/><circle cx="508.32" cy="515.84" r="3.45"/><circle cx="508.32" cy="518.77" r="3.45"/><circle cx="508.32" cy="521.71" r="3.45"/><circle cx="508.32" cy="524.65" r="3.45"/><circle cx="508.32" cy="527.59" r="3.45"/><circle cx="508.32" cy="530.52" r="3.45"/><circle cx="508.32" cy="533.46" r="3.45"/><circle cx="508.32" cy="536.40" r="3.45"/><circle cx="508.32" cy="539.34" r="3.45"/><circle cx="508.32" cy="542.27" r="3.45"/><circle cx="508.32" cy="545.21" r="3.45"/><circle cx="508.32" cy="548.15" r="3.45"/><circle cx="508.32" cy="551.09" r="3.45"/><circle cx="508.32" cy="554.02" r="3.45"/><circle cx="508.32" cy="556.96" r="3.45"/><circle cx="508.32" cy="559.90" r="3.45"/><circle cx="508.32" cy="515.40" r="3.45"/><circle cx="508.32" cy="524.40" r="3.45"/><circle cx="508.32" cy="532.40" r="3.45"/><circle cx="508.32" cy="538.90" r="3.45"/><circle cx="508.32" cy="553.40" r="3.45"/><circle cx="529.39" cy="510.40" r="3.45"/><circle cx="529.39" cy="536.70" r="3.45"/><circle cx="529.39" cy="539.37" r="3.45"/><circle cx="529.39" cy="542.05" r="3.45"/><circle cx="529.39" cy="544.72" r="3.45"/><circle cx="529.39" cy="547.39" r="3.45"/><circle cx="529.39" cy="550.06" r="3.45"/><circle cx="529.39" cy="552.74" r="3.45"/><circle cx="529.39" cy="555.41" r="3.45"/><circle cx="529.39" cy="558.08" r="3.45"/><circle cx="529.39" cy="560.75" r="3.45"/><circle cx="529.39" cy="563.43" r="3.45"/><circle cx="529.39" cy="566.10" r="3.45"/><circle cx="529.39" cy="542.40" r="3.45"/><circle cx="529.39" cy="550.40" r="3.45"/><circle cx="529.39" cy="557.40" r="3.45"/><circle cx="529.39" cy="575.80" r="3.45"/><circle cx="529.39" cy="596.40" r="3.45"/><circle cx="557.48" cy="521.40" r="3.45"/><circle cx="557.48" cy="538.90" r="3.45"/><circle cx="557.48" cy="545.80" r="3.45"/><circle cx="557.48" cy="552.65" r="3.45"/><circle cx="557.48" cy="557.40" r="3.45"/><circle cx="557.48" cy="558.90" r="3.45"/><circle cx="557.48" cy="566.40" r="3.45"/><circle cx="557.48" cy="568.65" r="3.45"/><circle cx="557.48" cy="570.90" r="3.45"/><circle cx="557.48" cy="573.15" r="3.45"/><circle cx="557.48" cy="575.40" r="3.45"/><circle cx="557.48" cy="577.65" r="3.45"/><circle cx="557.48" cy="570.04" r="3.45"/><circle cx="557.48" cy="568.10" r="3.45"/><circle cx="557.48" cy="590.15" r="3.45"/><circle cx="557.48" cy="597.00" r="3.45"/><circle cx="641.75" cy="551.90" r="3.45"/><circle cx="641.75" cy="554.40" r="3.45"/><circle cx="641.75" cy="578.90" r="3.45"/><circle cx="641.75" cy="581.72" r="3.45"/><circle cx="641.75" cy="584.54" r="3.45"/><circle cx="641.75" cy="587.35" r="3.45"/><circle cx="641.75" cy="590.17" r="3.45"/><circle cx="641.75" cy="592.99" r="3.45"/><circle cx="641.75" cy="595.81" r="3.45"/><circle cx="641.75" cy="598.63" r="3.45"/><circle cx="641.75" cy="601.45" r="3.45"/><circle cx="641.75" cy="604.26" r="3.45"/><circle cx="641.75" cy="607.08" r="3.45"/><circle cx="641.75" cy="609.90" r="3.45"/><circle cx="641.75" cy="592.40" r="3.45"/><circle cx="641.75" cy="600.40" r="3.45"/><circle cx="641.75" cy="619.70" r="3.45"/></g>
</g>
<rect x="501.30" y="464.70" width="280.90" height="281.90" fill="none" stroke="#3a3a3a" stroke-width="1.3"/>
<line x1="501.30" y1="746.60" x2="501.30" y2="754.90" stroke="#3a3a3a" stroke-width="1.3"/>
<line x1="501.30" y1="464.70" x2="501.30" y2="456.70" stroke="#3a3a3a" stroke-width="1.3"/>
<line x1="557.48" y1="746.60" x2="557.48" y2="754.90" stroke="#3a3a3a" stroke-width="1.3"/>
<line x1="557.48" y1="464.70" x2="557.48" y2="456.70" stroke="#3a3a3a" stroke-width="1.3"/>
<line x1="613.66" y1="746.60" x2="613.66" y2="754.90" stroke="#3a3a3a" stroke-width="1.3"/>
<line x1="613.66" y1="464.70" x2="613.66" y2="456.70" stroke="#3a3a3a" stroke-width="1.3"/>
<line x1="669.84" y1="746.60" x2="669.84" y2="754.90" stroke="#3a3a3a" stroke-width="1.3"/>
<line x1="669.84" y1="464.70" x2="669.84" y2="456.70" stroke="#3a3a3a" stroke-width="1.3"/>
<line x1="726.02" y1="746.60" x2="726.02" y2="754.90" stroke="#3a3a3a" stroke-width="1.3"/>
<line x1="726.02" y1="464.70" x2="726.02" y2="456.70" stroke="#3a3a3a" stroke-width="1.3"/>
<line x1="782.20" y1="746.60" x2="782.20" y2="754.90" stroke="#3a3a3a" stroke-width="1.3"/>
<line x1="782.20" y1="464.70" x2="782.20" y2="456.70" stroke="#3a3a3a" stroke-width="1.3"/>
<text x="557.48" y="772.60" text-anchor="middle" class="tk">2</text>
<text x="613.66" y="772.60" text-anchor="middle" class="tk">4</text>
<text x="669.84" y="772.60" text-anchor="middle" class="tk">6</text>
<text x="726.02" y="772.60" text-anchor="middle" class="tk">8</text>
<line x1="488.90" y1="746.60" x2="501.30" y2="746.60" stroke="#3a3a3a" stroke-width="1.3"/>
<line x1="782.20" y1="746.60" x2="794.60" y2="746.60" stroke="#3a3a3a" stroke-width="1.3"/>
<line x1="494.30" y1="712.33" x2="501.30" y2="712.33" stroke="#3a3a3a" stroke-width="1.3"/>
<line x1="782.20" y1="712.33" x2="789.20" y2="712.33" stroke="#3a3a3a" stroke-width="1.3"/>
<line x1="494.30" y1="692.28" x2="501.30" y2="692.28" stroke="#3a3a3a" stroke-width="1.3"/>
<line x1="782.20" y1="692.28" x2="789.20" y2="692.28" stroke="#3a3a3a" stroke-width="1.3"/>
<line x1="494.30" y1="678.06" x2="501.30" y2="678.06" stroke="#3a3a3a" stroke-width="1.3"/>
<line x1="782.20" y1="678.06" x2="789.20" y2="678.06" stroke="#3a3a3a" stroke-width="1.3"/>
<line x1="494.30" y1="667.02" x2="501.30" y2="667.02" stroke="#3a3a3a" stroke-width="1.3"/>
<line x1="782.20" y1="667.02" x2="789.20" y2="667.02" stroke="#3a3a3a" stroke-width="1.3"/>
<line x1="494.30" y1="658.01" x2="501.30" y2="658.01" stroke="#3a3a3a" stroke-width="1.3"/>
<line x1="782.20" y1="658.01" x2="789.20" y2="658.01" stroke="#3a3a3a" stroke-width="1.3"/>
<line x1="494.30" y1="650.39" x2="501.30" y2="650.39" stroke="#3a3a3a" stroke-width="1.3"/>
<line x1="782.20" y1="650.39" x2="789.20" y2="650.39" stroke="#3a3a3a" stroke-width="1.3"/>
<line x1="494.30" y1="643.78" x2="501.30" y2="643.78" stroke="#3a3a3a" stroke-width="1.3"/>
<line x1="782.20" y1="643.78" x2="789.20" y2="643.78" stroke="#3a3a3a" stroke-width="1.3"/>
<line x1="494.30" y1="637.96" x2="501.30" y2="637.96" stroke="#3a3a3a" stroke-width="1.3"/>
<line x1="782.20" y1="637.96" x2="789.20" y2="637.96" stroke="#3a3a3a" stroke-width="1.3"/>
<line x1="488.90" y1="632.75" x2="501.30" y2="632.75" stroke="#3a3a3a" stroke-width="1.3"/>
<line x1="782.20" y1="632.75" x2="794.60" y2="632.75" stroke="#3a3a3a" stroke-width="1.3"/>
<line x1="494.30" y1="598.48" x2="501.30" y2="598.48" stroke="#3a3a3a" stroke-width="1.3"/>
<line x1="782.20" y1="598.48" x2="789.20" y2="598.48" stroke="#3a3a3a" stroke-width="1.3"/>
<line x1="494.30" y1="578.43" x2="501.30" y2="578.43" stroke="#3a3a3a" stroke-width="1.3"/>
<line x1="782.20" y1="578.43" x2="789.20" y2="578.43" stroke="#3a3a3a" stroke-width="1.3"/>
<line x1="494.30" y1="564.21" x2="501.30" y2="564.21" stroke="#3a3a3a" stroke-width="1.3"/>
<line x1="782.20" y1="564.21" x2="789.20" y2="564.21" stroke="#3a3a3a" stroke-width="1.3"/>
<line x1="494.30" y1="553.17" x2="501.30" y2="553.17" stroke="#3a3a3a" stroke-width="1.3"/>
<line x1="782.20" y1="553.17" x2="789.20" y2="553.17" stroke="#3a3a3a" stroke-width="1.3"/>
<line x1="494.30" y1="544.16" x2="501.30" y2="544.16" stroke="#3a3a3a" stroke-width="1.3"/>
<line x1="782.20" y1="544.16" x2="789.20" y2="544.16" stroke="#3a3a3a" stroke-width="1.3"/>
<line x1="494.30" y1="536.54" x2="501.30" y2="536.54" stroke="#3a3a3a" stroke-width="1.3"/>
<line x1="782.20" y1="536.54" x2="789.20" y2="536.54" stroke="#3a3a3a" stroke-width="1.3"/>
<line x1="494.30" y1="529.93" x2="501.30" y2="529.93" stroke="#3a3a3a" stroke-width="1.3"/>
<line x1="782.20" y1="529.93" x2="789.20" y2="529.93" stroke="#3a3a3a" stroke-width="1.3"/>
<line x1="494.30" y1="524.11" x2="501.30" y2="524.11" stroke="#3a3a3a" stroke-width="1.3"/>
<line x1="782.20" y1="524.11" x2="789.20" y2="524.11" stroke="#3a3a3a" stroke-width="1.3"/>
<line x1="488.90" y1="518.90" x2="501.30" y2="518.90" stroke="#3a3a3a" stroke-width="1.3"/>
<line x1="782.20" y1="518.90" x2="794.60" y2="518.90" stroke="#3a3a3a" stroke-width="1.3"/>
<line x1="494.30" y1="484.63" x2="501.30" y2="484.63" stroke="#3a3a3a" stroke-width="1.3"/>
<line x1="782.20" y1="484.63" x2="789.20" y2="484.63" stroke="#3a3a3a" stroke-width="1.3"/>
<line x1="494.30" y1="464.58" x2="501.30" y2="464.58" stroke="#3a3a3a" stroke-width="1.3"/>
<line x1="782.20" y1="464.58" x2="789.20" y2="464.58" stroke="#3a3a3a" stroke-width="1.3"/>
<text x="483.00" y="753.20" text-anchor="end" class="tk">1</text>
<text x="483.00" y="639.35" text-anchor="end" class="tk">10</text>
<text x="483.00" y="525.50" text-anchor="end" class="tk">100</text>
<text x="641.75" y="795.10" text-anchor="middle" class="lb">Time (min)</text>
<text transform="translate(447.60,605.65) rotate(-90)" x="0" y="0" text-anchor="middle" class="lb">Plasma Cefadroxil (uM)</text>
</svg>
</body></html>
